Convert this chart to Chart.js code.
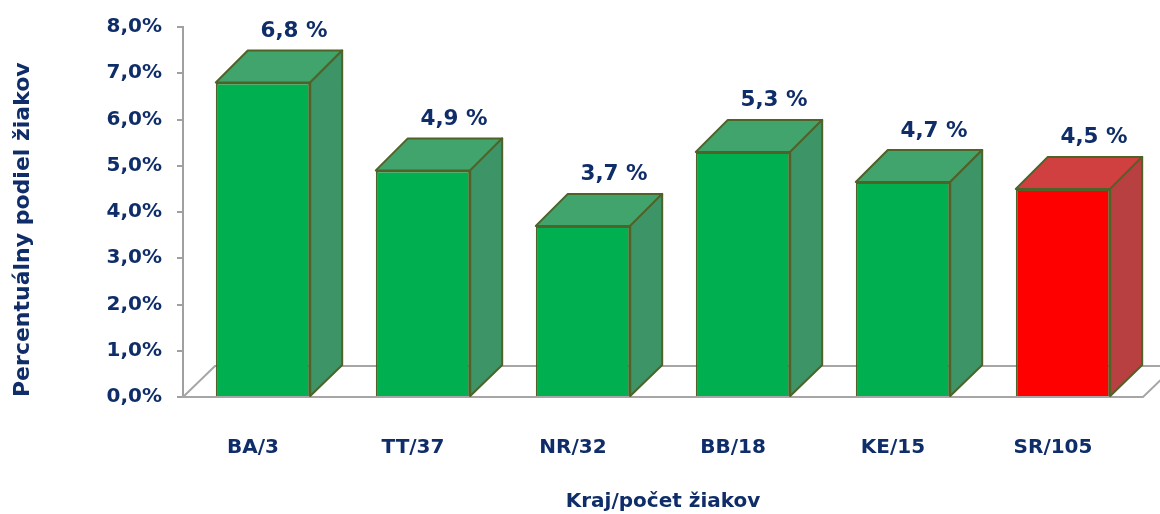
<!DOCTYPE html>
<html lang="sk">
<head>
  <meta charset="UTF-8">
  <title>Percentuálny podiel žiakov podľa krajov</title>
  <script src="https://cdn.jsdelivr.net/npm/chart.js"></script>
  <style>
    html, body { margin: 0; padding: 0; background: #fff; }
    .chart-container { width: 1160px; height: 514px; }
  </style>
</head>
<body>
  <div class="chart-container">
    <canvas id="podielChart" width="1160" height="514"></canvas>
  </div>

  <script>
    // údaje z grafu
    const categories = ['BA/3', 'TT/37', 'NR/32', 'BB/18', 'KE/15', 'SR/105'];
    const values = [6.8, 4.9, 3.7, 5.3, 4.65, 4.5];
    const yTickValues = [0, 1, 2, 3, 4, 5, 6, 7, 8];
    const highlightCategory = 'SR/105';

    const navy = '#0f2d69';
    const edge = '#4f6228';
    const fontFamily = '"DejaVu Sans", Arial, sans-serif';
    const fmt = v => v.toFixed(1).replace('.', ',');

    // farby: front, vrch, bok
    const greenFaces = ['#00b050', '#40a46c', '#3d9466'];
    const redFaces = ['#ff0000', '#d04040', '#b84040'];
    const facesFor = i => categories[i] === highlightCategory ? redFaces : greenFaces;

    // 3D hĺbka stĺpcov a podlahy
    const DX = 32, DY = 32;

    const bar3d = {
      id: 'bar3d',
      beforeDatasetsDraw(chart) {
        const { ctx, chartArea: a } = chart;
        ctx.save();
        ctx.beginPath();
        ctx.moveTo(a.left, a.bottom);
        ctx.lineTo(a.right, a.bottom);
        ctx.lineTo(a.right + DX, a.bottom - 31);
        ctx.lineTo(a.left + DX, a.bottom - 31);
        ctx.closePath();
        ctx.fillStyle = '#ffffff';
        ctx.fill();
        ctx.strokeStyle = '#a6a6a6';
        ctx.lineWidth = 2;
        ctx.stroke();
        ctx.restore();
      },
      afterDatasetsDraw(chart) {
        const { ctx } = chart;
        const meta = chart.getDatasetMeta(0);
        ctx.save();
        ctx.lineWidth = 2;
        ctx.strokeStyle = edge;
        ctx.lineJoin = 'round';
        meta.data.forEach((bar, i) => {
          const { x, y, base, width } = bar.getProps(['x', 'y', 'base', 'width'], true);
          const l = x - width / 2, r = x + width / 2;
          const faces = facesFor(i);

          // vrch
          ctx.beginPath();
          ctx.moveTo(l, y);
          ctx.lineTo(l + DX, y - DY);
          ctx.lineTo(r + DX, y - DY);
          ctx.lineTo(r, y);
          ctx.closePath();
          ctx.fillStyle = faces[1];
          ctx.fill();
          ctx.stroke();

          // bok
          ctx.beginPath();
          ctx.moveTo(r, y);
          ctx.lineTo(r + DX, y - DY);
          ctx.lineTo(r + DX, base - 31);
          ctx.lineTo(r, base);
          ctx.closePath();
          ctx.fillStyle = faces[2];
          ctx.fill();
          ctx.stroke();

          // popisok hodnoty
          ctx.fillStyle = navy;
          ctx.font = 'bold 21.5px ' + fontFamily;
          ctx.textAlign = 'center';
          ctx.textBaseline = 'middle';
          ctx.fillText(fmt(values[i]) + ' %', x + 31, y - DY - 19);
        });
        ctx.restore();
      }
    };

    const ctx = document.getElementById('podielChart').getContext('2d');
    new Chart(ctx, {
      type: 'bar',
      data: {
        labels: categories,
        datasets: [{
          data: values,
          backgroundColor: values.map((v, i) => facesFor(i)[0]),
          borderColor: edge,
          borderWidth: 2,
          barPercentage: 0.59,
          categoryPercentage: 1.0
        }]
      },
      options: {
        responsive: false,
        animation: false,
        layout: { padding: { top: 23, right: 17, left: 0, bottom: 0 } },
        plugins: {
          legend: { display: false },
          tooltip: { enabled: false }
        },
        scales: {
          x: {
            afterFit: s => { s.height = 117; },
            grid: { display: false, drawTicks: false },
            border: { display: false },
            ticks: {
              color: navy,
              padding: 39,
              labelOffset: -10,
              font: { family: fontFamily, size: 20, weight: 'bold' }
            },
            title: {
              display: true,
              text: 'Kraj/počet žiakov',
              color: navy,
              padding: { top: 2, bottom: 0 },
              font: { family: fontFamily, size: 20, weight: 'bold' }
            }
          },
          y: {
            min: 0,
            max: 8,
            afterFit: s => { s.width = 183; },
            afterBuildTicks: s => { s.ticks = yTickValues.map(v => ({ value: v })); },
            grid: { drawOnChartArea: false, tickLength: 6, color: '#a0a0a0', lineWidth: 2 },
            border: { display: true, color: '#a0a0a0', width: 2 },
            ticks: {
              color: navy,
              padding: 15,
              callback: v => fmt(v) + '%',
              font: { family: fontFamily, size: 20, weight: 'bold' }
            },
            title: {
              display: true,
              text: 'Percentuálny podiel žiakov',
              color: navy,
              align: 'start',
              padding: { top: 10, bottom: 0 },
              font: { family: fontFamily, size: 22, weight: 'bold' }
            }
          }
        }
      },
      plugins: [bar3d]
    });
  </script>
</body>
</html>
